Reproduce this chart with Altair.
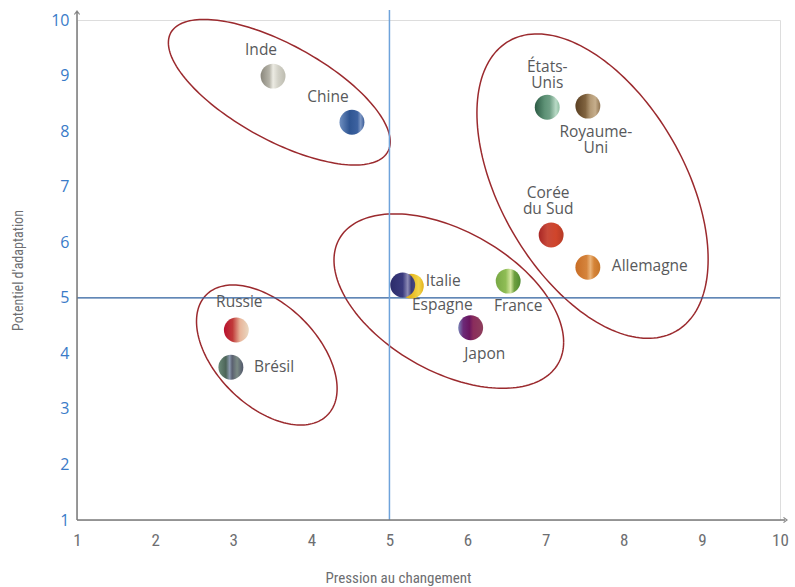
import altair as alt
import numpy as np
import pandas as pd

# ---------------- data ----------------
countries = ["Inde", "Chine", "États-Unis", "Royaume-Uni", "Corée du Sud", "Allemagne",
             "France", "Espagne", "Italie", "Japon", "Russie", "Brésil"]
pression = [3.51, 4.52, 7.02, 7.54, 7.07, 7.54, 6.52, 5.28, 5.17, 6.04, 3.04, 2.97]
potentiel = [8.99, 8.16, 8.43, 8.45, 6.13, 5.55, 5.30, 5.21, 5.23, 4.46, 4.42, 3.75]
label_text = ["Inde", "Chine", "États-\nUnis", "Royaume-\nUni", "Corée\ndu Sud", "Allemagne",
              "France", "Espagne", "Italie", "Japon", "Russie", "Brésil"]

# groups (ellipses): centre, half-extent along x / y, tilt (correlation)
ell_cx = [3.59, 3.43, 5.76, 7.60]
ell_cy = [8.70, 3.97, 4.94, 7.01]
ell_wx = [1.42, 0.90, 1.47, 1.48]
ell_wy = [1.31, 1.26, 1.57, 2.74]
ell_rho = [-0.68, -0.48, -0.47, -0.48]

x_ticks = list(range(1, 11))
y_ticks = list(range(1, 11))
ref_x = [5]
ref_y = [5]

# ---------------- styles ----------------
gradients = {
    "Inde": [(0, "#8a877c"), (0.35, "#b5b3a8"), (0.5, "#ecebe3"), (0.7, "#d3d2c8"), (1, "#bdbcb0")],
    "Chine": [(0, "#6f8fc0"), (0.4, "#2f5592"), (0.72, "#3d62a0"), (0.85, "#7d97c4"), (1, "#3a5c98")],
    "États-Unis": [(0, "#2b5a44"), (0.4, "#5e9276"), (0.6, "#6e9e84"), (0.85, "#b9dac6"), (1, "#8fbfa2")],
    "Royaume-Uni": [(0, "#5a3f22"), (0.4, "#80633f"), (0.6, "#b49a76"), (0.8, "#c6ae8c"), (1, "#8f7350")],
    "Corée du Sud": [(0, "#a82625"), (0.35, "#c84a3a"), (0.7, "#d0452b"), (1, "#b53a26")],
    "Allemagne": [(0, "#c86d25"), (0.45, "#d5843c"), (0.6, "#eab47a"), (0.75, "#d58438"), (1, "#c57428")],
    "France": [(0, "#78a845"), (0.4, "#8fbd55"), (0.6, "#d4e6a0"), (0.75, "#6ea040"), (1, "#4f8a30")],
    "Espagne": [(0, "#d9a515"), (0.5, "#e6b820"), (0.8, "#f3d54a"), (1, "#e2b21c")],
    "Italie": [(0, "#2c2c6a"), (0.5, "#3b3b7e"), (0.7, "#8e8cb6"), (0.85, "#3c3c78"), (1, "#4a4a80")],
    "Japon": [(0, "#7a86b8"), (0.2, "#6c2a78"), (0.45, "#6a1660"), (0.6, "#8a2c5c"), (1, "#8e3f5c")],
    "Russie": [(0, "#b8102e"), (0.35, "#c03a3a"), (0.65, "#e8b59a"), (1, "#ead9c2")],
    "Brésil": [(0, "#6a8a78"), (0.3, "#4c6458"), (0.45, "#8c9ab0"), (0.55, "#5a6070"), (0.75, "#7a8a84"), (1, "#50566a")],
}
# label placement (pixel offsets of the first line from the point, alignment)
label_style = {
    "Inde": (-12, -26, "center"),
    "Chine": (-24, -25, "center"),
    "États-Unis": (0, -40, "center"),
    "Royaume-Uni": (8, 26, "center"),
    "Corée du Sud": (-3, -42, "center"),
    "Allemagne": (24, -1, "left"),
    "France": (10, 25, "center"),
    "Espagne": (31, 19, "center"),
    "Italie": (23, -4, "left"),
    "Japon": (14, 26, "center"),
    "Russie": (3, -28, "center"),
    "Brésil": (23, 0, "left"),
}

W, H = 703, 500
LABEL_FONT = "Open Sans"
NARROW = "Liberation Sans Narrow, Roboto Condensed, Roboto"
GREY = "#58595b"

df = pd.DataFrame({"country": countries, "x": pression, "y": potentiel, "label": label_text})

rows = []
t = np.linspace(0, 2 * np.pi, 181)
for g, (cx, cy, wx, wy, r) in enumerate(zip(ell_cx, ell_cy, ell_wx, ell_wy, ell_rho)):
    ex = cx + wx * np.cos(t)
    ey = cy + wy * (r * np.cos(t) + np.sqrt(1 - r * r) * np.sin(t))
    for i, (a, b) in enumerate(zip(ex, ey)):
        rows.append({"g": g, "i": i, "x": a, "y": b})
ell_df = pd.DataFrame(rows)

xscale = alt.Scale(domain=[1, 10], nice=False, zero=False)
yscale = alt.Scale(domain=[1, 10], nice=False, zero=False)
xaxis = alt.Axis(values=x_ticks, domain=False, ticks=False, grid=False, labelFlush=False,
                 labelColor="#6d6e71", labelFont=NARROW, labelFontSize=17, labelPadding=12,
                 titleColor="#6d6e71", titleFont=NARROW, titleFontSize=15, titleFontWeight="normal",
                 titleX=321, titleY=50, titleBaseline="top")
yaxis = alt.Axis(values=y_ticks, domain=False, ticks=False, grid=False, labelFlush=False,
                 labelColor="#3a7bc8", labelFont=LABEL_FONT, labelFontSize=16, labelPadding=8,
                 titleColor="#6d6e71", titleFont=NARROW, titleFontSize=14, titleFontWeight="normal",
                 titleX=-59, titleY=250, titleAngle=270, titleBaseline="middle")


def X():
    return alt.X("x:Q", scale=xscale, axis=xaxis, title="Pression au changement")


def Y():
    return alt.Y("y:Q", scale=yscale, axis=yaxis, title="Potentiel d'adaptation")


layers = []

# ellipses
layers.append(
    alt.Chart(ell_df).mark_line(color="#9b2a2e", strokeWidth=1.5, interpolate="linear")
    .encode(x=X(), y=Y(), detail="g:N", order="i:Q")
)

# reference lines
layers.append(
    alt.Chart(pd.DataFrame({"y": ref_y})).mark_rule(color="#2d5f9e", strokeWidth=1.2)
    .encode(y=Y())
)
layers.append(
    alt.Chart(pd.DataFrame({"x": ref_x})).mark_rule(color="#6ea3db", strokeWidth=1.5)
    .encode(x=X(), y=alt.value(-10), y2=alt.value(H))
)

# axis lines with arrows
layers.append(
    alt.Chart(pd.DataFrame({"a": [0]})).mark_rule(color="#7a7a7a", strokeWidth=1.5)
    .encode(x=alt.value(0), x2=alt.value(W + 5), y=alt.value(H))
)
layers.append(
    alt.Chart(pd.DataFrame({"a": [0]})).mark_rule(color="#7a7a7a", strokeWidth=1.5)
    .encode(x=alt.value(0), y=alt.value(H), y2=alt.value(-8))
)
layers.append(
    alt.Chart(pd.DataFrame({"a": [0]}))
    .mark_point(shape="M-1,-0.75L0,0L-1,0.75", filled=False, size=49, stroke="#555555", strokeWidth=1.2)
    .encode(x=alt.value(W + 7), y=alt.value(H))
)
layers.append(
    alt.Chart(pd.DataFrame({"a": [0]}))
    .mark_point(shape="M-0.75,1L0,0L0.75,1", filled=False, size=49, stroke="#555555", strokeWidth=1.2)
    .encode(x=alt.value(0), y=alt.value(-9))
)

# points (gradient circles) and labels
for c in countries:
    stops = [alt.GradientStop(offset=o, color=col) for o, col in gradients[c]]
    grad = alt.LinearGradient(gradient="linear", stops=stops, x1=0, x2=1, y1=0, y2=0)
    layers.append(
        alt.Chart(df).transform_filter(alt.datum.country == c)
        .mark_point(shape="circle", filled=True, size=620, fill=grad, strokeWidth=0, opacity=1)
        .encode(x=X(), y=Y())
    )
for c in countries:
    dx, dy, al = label_style[c]
    layers.append(
        alt.Chart(df).transform_filter(alt.datum.country == c)
        .mark_text(align=al, baseline="middle", dx=dx, dy=dy, font=LABEL_FONT, fontSize=15.5,
                   color=GREY, lineBreak="\n", lineHeight=16)
        .encode(x=X(), y=Y(), text="label:N")
    )

chart = (
    alt.layer(*layers)
    .properties(width=W, height=H,
                autosize=alt.AutoSizeParams(type="none"),
                padding={"left": 77, "top": 20, "right": 15, "bottom": 67})
    .configure_view(stroke=None)
    .configure(background="white")
)

chart.save("out.html", embed_options={"renderer": "svg", "actions": False})
